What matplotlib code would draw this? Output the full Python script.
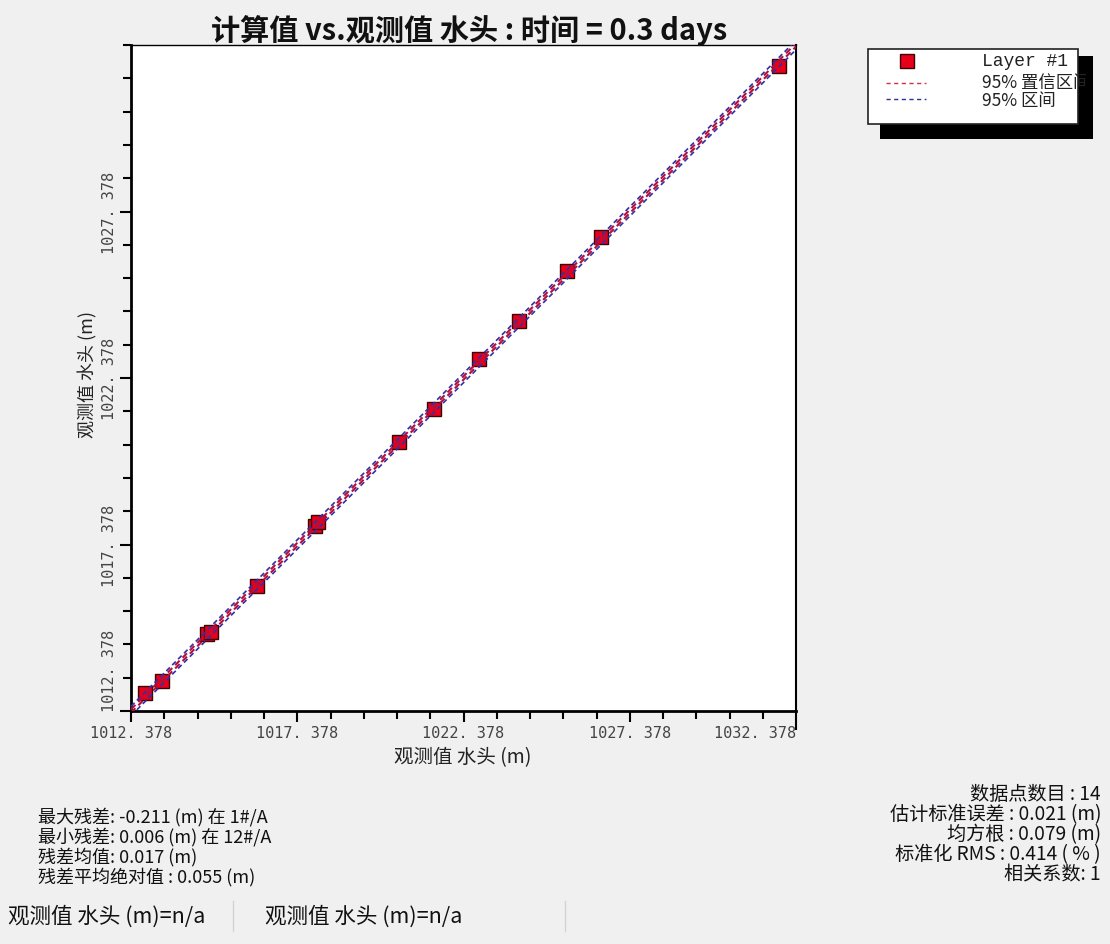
import matplotlib
matplotlib.use("Agg")
import matplotlib.pyplot as plt
from matplotlib.patches import Rectangle
import numpy as np

plt.rcParams['font.family'] = ['Noto Sans CJK SC', 'DejaVu Sans']

# Observed vs. calculated heads (m)
observed = [1012.79, 1013.30, 1014.67, 1014.79, 1016.16, 1017.91, 1018.00,
            1020.44, 1021.49, 1022.85, 1024.05, 1025.50, 1026.52, 1031.87]
calculated = [1012.92, 1013.28, 1014.69, 1014.75, 1016.13, 1017.93, 1018.05,
              1020.46, 1021.45, 1022.95, 1024.09, 1025.59, 1026.61, 1031.75]

axis_min = 1012.378
axis_max = 1032.378
tick_values = [1012.378, 1017.378, 1022.378, 1027.378, 1032.378]
tick_labels = ["1012. 378", "1017. 378", "1022. 378", "1027. 378", "1032. 378"]

conf_offset = 0.05     # 95% confidence band half-width
pred_offset = 0.14     # 95% interval half-width

title = "计算值 vs.观测值 水头 : 时间 = 0.3 days"
x_label = "观测值 水头 (m)"
y_label = "观测值 水头 (m)"
legend_labels = ["Layer #1", "95% 置信区间", "95% 区间"]

left_stats = ["最大残差: -0.211 (m) 在 1#/A",
              "最小残差: 0.006 (m) 在 12#/A",
              "残差均值: 0.017 (m)",
              "残差平均绝对值 : 0.055 (m)"]
right_stats = ["数据点数目 : 14",
               "估计标准误差 : 0.021 (m)",
               "均方根 : 0.079 (m)",
               "标准化 RMS : 0.414 ( % )",
               "相关系数: 1"]
status_items = ["观测值 水头 (m)=n/a", "观测值 水头 (m)=n/a"]

BG = "#f0f0f0"
W, H = 1110, 945
fig = plt.figure(figsize=(W / 100, H / 100), dpi=100, facecolor=BG)


def fx(px):
    return px / W


def fy(py):
    return 1 - py / H


ax = fig.add_axes([fx(131), fy(712), fx(796) - fx(131), fy(46) - fy(712)])
ax.set_facecolor("white")

ax.set_xlim(axis_min, 1032.17)
ax.set_ylim(axis_min, axis_max)

# scatter markers
ax.plot(observed, calculated, linestyle="none", marker="s", markersize=10.5,
        markerfacecolor="#e8001a", markeredgecolor="#3a0505",
        markeredgewidth=1.0, zorder=3, clip_on=False)

# reference bands
xs = np.array([axis_min, axis_max])
for d in (-pred_offset, pred_offset):
    ax.plot(xs, xs + d, color="#3030a8", lw=1.2, dashes=(3, 2), zorder=4)
for d in (-conf_offset, conf_offset):
    ax.plot(xs, xs + d, color="#b01040", lw=1.5, dashes=(3, 2), zorder=4)

for side in ("left", "bottom", "right", "top"):
    ax.spines[side].set_color("black")
ax.spines["left"].set_linewidth(2.0)
ax.spines["bottom"].set_linewidth(2.0)
ax.spines["right"].set_linewidth(1.5)
ax.spines["top"].set_linewidth(1.0)

ax.set_xticks(tick_values)
ax.set_xticklabels(tick_labels)
ax.set_yticks(tick_values[:-1])
ax.set_yticklabels(tick_labels[:-1])
minor = np.arange(axis_min, axis_max + 0.5, 1.0)
ax.set_xticks(minor, minor=True)
ax.set_yticks(minor, minor=True)
ax.tick_params(which="both", direction="out", width=1.5, color="black",
               labelsize=11, labelcolor="#444444")
ax.tick_params(which="major", length=8, pad=2)
ax.tick_params(which="minor", length=6)
for lab in ax.get_xticklabels() + ax.get_yticklabels():
    lab.set_family(["DejaVu Sans Mono"])
for lab in ax.get_yticklabels():
    lab.set_rotation(90)
    lab.set_va("center")
ax.get_yticklabels()[0].set_va("bottom")
ax.get_xticklabels()[-1].set_ha("right")
# longer tick beyond the frame at the axis end
ax.xaxis.get_major_ticks()[-1].tick1line.set_markersize(14)

# titles and axis labels
fig.text(fx(469), fy(30), title, ha="center", va="center", fontsize=21,
         fontweight="bold", color="#111111")
fig.text(fx(463), fy(758), x_label, ha="center", va="center", fontsize=14,
         color="#222222")
fig.text(fx(88), fy(375), y_label, ha="center", va="center", fontsize=13,
         rotation=90, color="#222222")

# legend box with drop shadow
fig.patches.append(Rectangle((fx(880), fy(140)), fx(1093) - fx(880),
                             fy(57) - fy(140), transform=fig.transFigure,
                             facecolor="black", edgecolor="none", zorder=1))
box = Rectangle((fx(868), fy(125)), fx(1078) - fx(868),
                fy(50) - fy(125), transform=fig.transFigure,
                facecolor="white", edgecolor="#222222",
                linewidth=1.2, zorder=2)
fig.patches.append(box)
fig.lines.append(plt.Line2D([fx(907)], [fy(62)], transform=fig.transFigure,
                            marker="s", markersize=10.5, markerfacecolor="#e8001a",
                            markeredgecolor="#3a0505", zorder=3))
fig.lines.append(plt.Line2D([fx(886), fx(926)], [fy(84), fy(84)],
                            transform=fig.transFigure, color="#d03040",
                            lw=1.0, dashes=(3, 2.5), zorder=3))
fig.lines.append(plt.Line2D([fx(886), fx(926)], [fy(100), fy(100)],
                            transform=fig.transFigure, color="#303090",
                            lw=1.0, dashes=(3, 2.5), zorder=3))
clip_rect = Rectangle((fx(868), fy(125)), fx(1086) - fx(868),
                      fy(50) - fy(125), transform=fig.transFigure)
t0 = fig.text(fx(982), fy(62), legend_labels[0], ha="left", va="center",
              fontsize=13, family=["Liberation Mono"], color="#222222",
              zorder=4)
t1 = fig.text(fx(982), fy(83), legend_labels[1], ha="left", va="center",
              fontsize=12.5, color="#222222", zorder=4)
t2 = fig.text(fx(982), fy(101), legend_labels[2], ha="left", va="center",
              fontsize=12.5, color="#222222", zorder=4)
t1.set_clip_path(clip_rect)

# statistics
for i, s in enumerate(left_stats):
    fig.text(fx(38), fy(817 + 20 * i), s, ha="left", va="center",
             fontsize=13, color="#111111")
for i, s in enumerate(right_stats):
    fig.text(fx(1101), fy(795 + 20 * i), s, ha="right", va="center",
             fontsize=13.8, color="#111111")

# status bar
for px, s in zip((8, 265), status_items):
    fig.text(fx(px), fy(917), s, ha="left", va="center", fontsize=15.5,
             color="#111111")
for px in (233, 565):
    fig.lines.append(plt.Line2D([fx(px), fx(px)], [fy(902), fy(932)],
                                transform=fig.transFigure, color="#d4d4d4",
                                lw=1.0))

fig.savefig("out.png", dpi=100, facecolor=BG)
